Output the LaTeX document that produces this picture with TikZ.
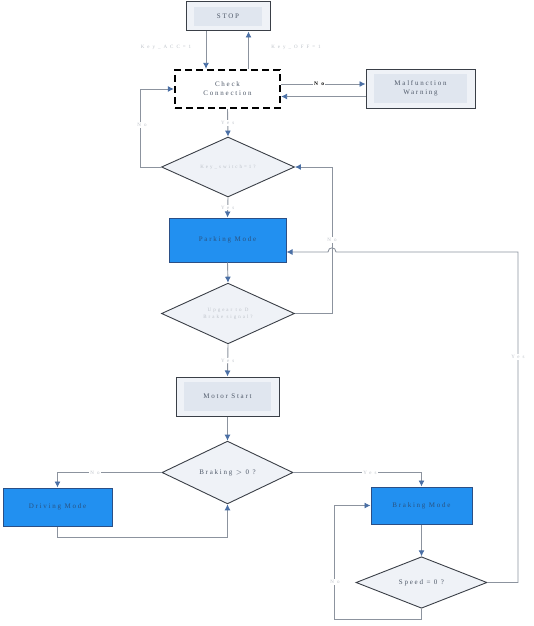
\documentclass[tikz,border=0pt]{standalone}
\usepackage{fontspec}
\setmainfont{Liberation Serif}[LetterSpace=25]
\newfontfamily\labfont{Liberation Serif}[LetterSpace=60]
\newfontfamily\dfont{Liberation Serif}[LetterSpace=40]
\usetikzlibrary{shapes.geometric,arrows.meta}
\definecolor{lightfill}{HTML}{EFF2F7}
\definecolor{innerfill}{HTML}{E0E6EF}
\definecolor{bluefill}{HTML}{2290F0}
\definecolor{blueedge}{HTML}{2B4F86}
\definecolor{linec}{HTML}{8C939E}
\definecolor{tipc}{HTML}{4A6FA5}
\definecolor{txtc}{HTML}{4E5868}
\definecolor{bluetxt}{HTML}{2A527F}
\definecolor{labc}{HTML}{BDC2C9}
\definecolor{edgec}{HTML}{3A3F47}
\begin{document}
\begin{tikzpicture}[x=1pt,y=-1pt,
  lightbox/.style={rectangle, draw=edgec, fill=lightfill, line width=1pt, inner sep=0pt,
    text=txtc, font=\fontsize{7}{9}\selectfont, align=center,
    path picture={\fill[innerfill] ([shift={(8pt,-5pt)}]path picture bounding box.north west) rectangle ([shift={(-8pt,5pt)}]path picture bounding box.south east);}},
  bluebox/.style={rectangle, draw=blueedge, fill=bluefill, line width=1pt, inner sep=0pt,
    text=bluetxt, font=\fontsize{7}{9}\selectfont},
  dashbox/.style={rectangle, draw=black, fill=white, line width=2.3pt, dash pattern=on 7pt off 4pt,
    inner sep=0pt, text=txtc, font=\fontsize{7}{9}\selectfont, align=center},
  decision/.style={diamond, draw=edgec, fill=lightfill, line width=0.9pt, inner sep=0pt,
    text=txtc, font=\fontsize{7}{9}\selectfont, align=center},
  faintdecision/.style={decision, text=labc, font=\dfont\fontsize{5}{7}\selectfont},
  arr/.style={draw=linec, line width=0.9pt, -{Latex[length=6pt,width=6pt,color=tipc]}},
  lab/.style={font=\labfont\fontsize{5}{6}\selectfont, text=labc, fill=white, inner sep=1pt},
  darklab/.style={font=\labfont\bfseries\fontsize{5.5}{6}\selectfont, text=black, fill=white, inner sep=1pt}
]
\useasboundingbox (0,0) rectangle (533,626);

\node[lightbox, minimum width=84pt, minimum height=29pt] (stop) at (228,16.5) {STOP};
\node[dashbox, minimum width=105pt, minimum height=38pt] (check) at (227.5,89) {Check\\Connection};
\node[lightbox, minimum width=109pt, minimum height=39pt] (mal) at (420.5,88.5) {Malfunction\\Warning};
\node[faintdecision, minimum width=133pt, minimum height=45pt] (d1) at (228,167) {Key\_switch=1?};
\node[bluebox, minimum width=117pt, minimum height=44pt] (park) at (227.5,240) {Parking Mode};
\node[faintdecision, minimum width=133pt, minimum height=45pt] (d2) at (228,313.5) {Upgear to D\\Brake signal?};
\node[lightbox, minimum width=103pt, minimum height=39pt] (motor) at (227.5,396.5) {Motor Start};
\node[decision, minimum width=131pt, minimum height=45pt] (d3) at (227.5,472.5) {Braking $>$ 0 ?};
\node[bluebox, minimum width=109pt, minimum height=38pt] (drive) at (57.5,507) {Driving Mode};
\node[bluebox, minimum width=101pt, minimum height=37pt] (brake) at (421.5,505.5) {Braking Mode};
\node[decision, minimum width=131pt, minimum height=45pt] (d4) at (421.5,582.5) {Speed = 0 ?};

% STOP <-> Check
\draw[arr] ([xshift=-22pt]stop.south) -- ([xshift=-22pt]stop.south |- check.north);
\draw[arr] ([xshift=21pt]check.north) -- ([xshift=21pt]check.north |- stop.south);
\node[lab] (lacc) at (166,47) {Key\_ACC=1};
\node[lab] (loff) at (296,47) {Key\_OFF=1};

% Check <-> Malfunction
\draw[arr] ([yshift=5pt]check.east) -- ([yshift=5pt]check.east -| mal.west)
  node[darklab, pos=0.45] (lno1) {No};
\draw[arr] ([yshift=-8pt]mal.west) -- ([yshift=-8pt]mal.west -| check.east);

% Check -> d1
\draw[arr] (check.south) -- (d1.north) node[lab, midway] (lyes1) {Yes};
% d1 No loop
\draw[arr] (d1.west) -| ([xshift=-33pt]check.west) -- (check.west);
\node[lab] (lno2) at (142,125) {No};
% d1 -> park
\draw[arr] (d1.south) -- (park.north) node[lab, pos=0.5] (lyes2) {Yes};
% park -> d2
\draw[arr] (park.south) -- (d2.north);
% d2 No -> d1
\draw[arr] (d2.east) -- ++(37,0) |- (d1.east);
\node[lab] (lno3) at (332,240) {No};
% d2 -> motor
\draw[arr] (d2.south) -- (motor.north) node[lab, pos=0.5] (lyes3) {Yes};
% motor -> d3
\draw[arr] (motor.south) -- (d3.north);
% d3 No -> driving
\draw[arr] (d3.west) -| (drive.north);
\node[lab] (lno4) at (95,472.5) {No};
% driving -> d3
\draw[arr] (drive.south) -- ++(0,11) -| (d3.south);
% d3 Yes -> braking
\draw[arr] (d3.east) -| (brake.north);
\node[lab] (lyes4) at (370,472.5) {Yes};
% braking -> d4
\draw[arr] (brake.south) -- (d4.north);
% d4 No loop
\draw[arr] (d4.south) -- ++(0,11) -| ([xshift=-36pt]brake.west) -- (brake.west);
\node[lab] (lno5) at (335,582) {No};
% d4 Yes -> park
\coordinate (hopR) at (336,252);
\coordinate (hopL) at (328,252);
\draw[arr] (d4.east) -- (518,582.5) -- (518,252) -- (hopR)
  .. controls (336,246.5) and (328,246.5) .. (hopL) -- ([yshift=-12pt]park.east);
\node[lab] (lyes5) at (518,357) {Yes};
\end{tikzpicture}
\end{document}
